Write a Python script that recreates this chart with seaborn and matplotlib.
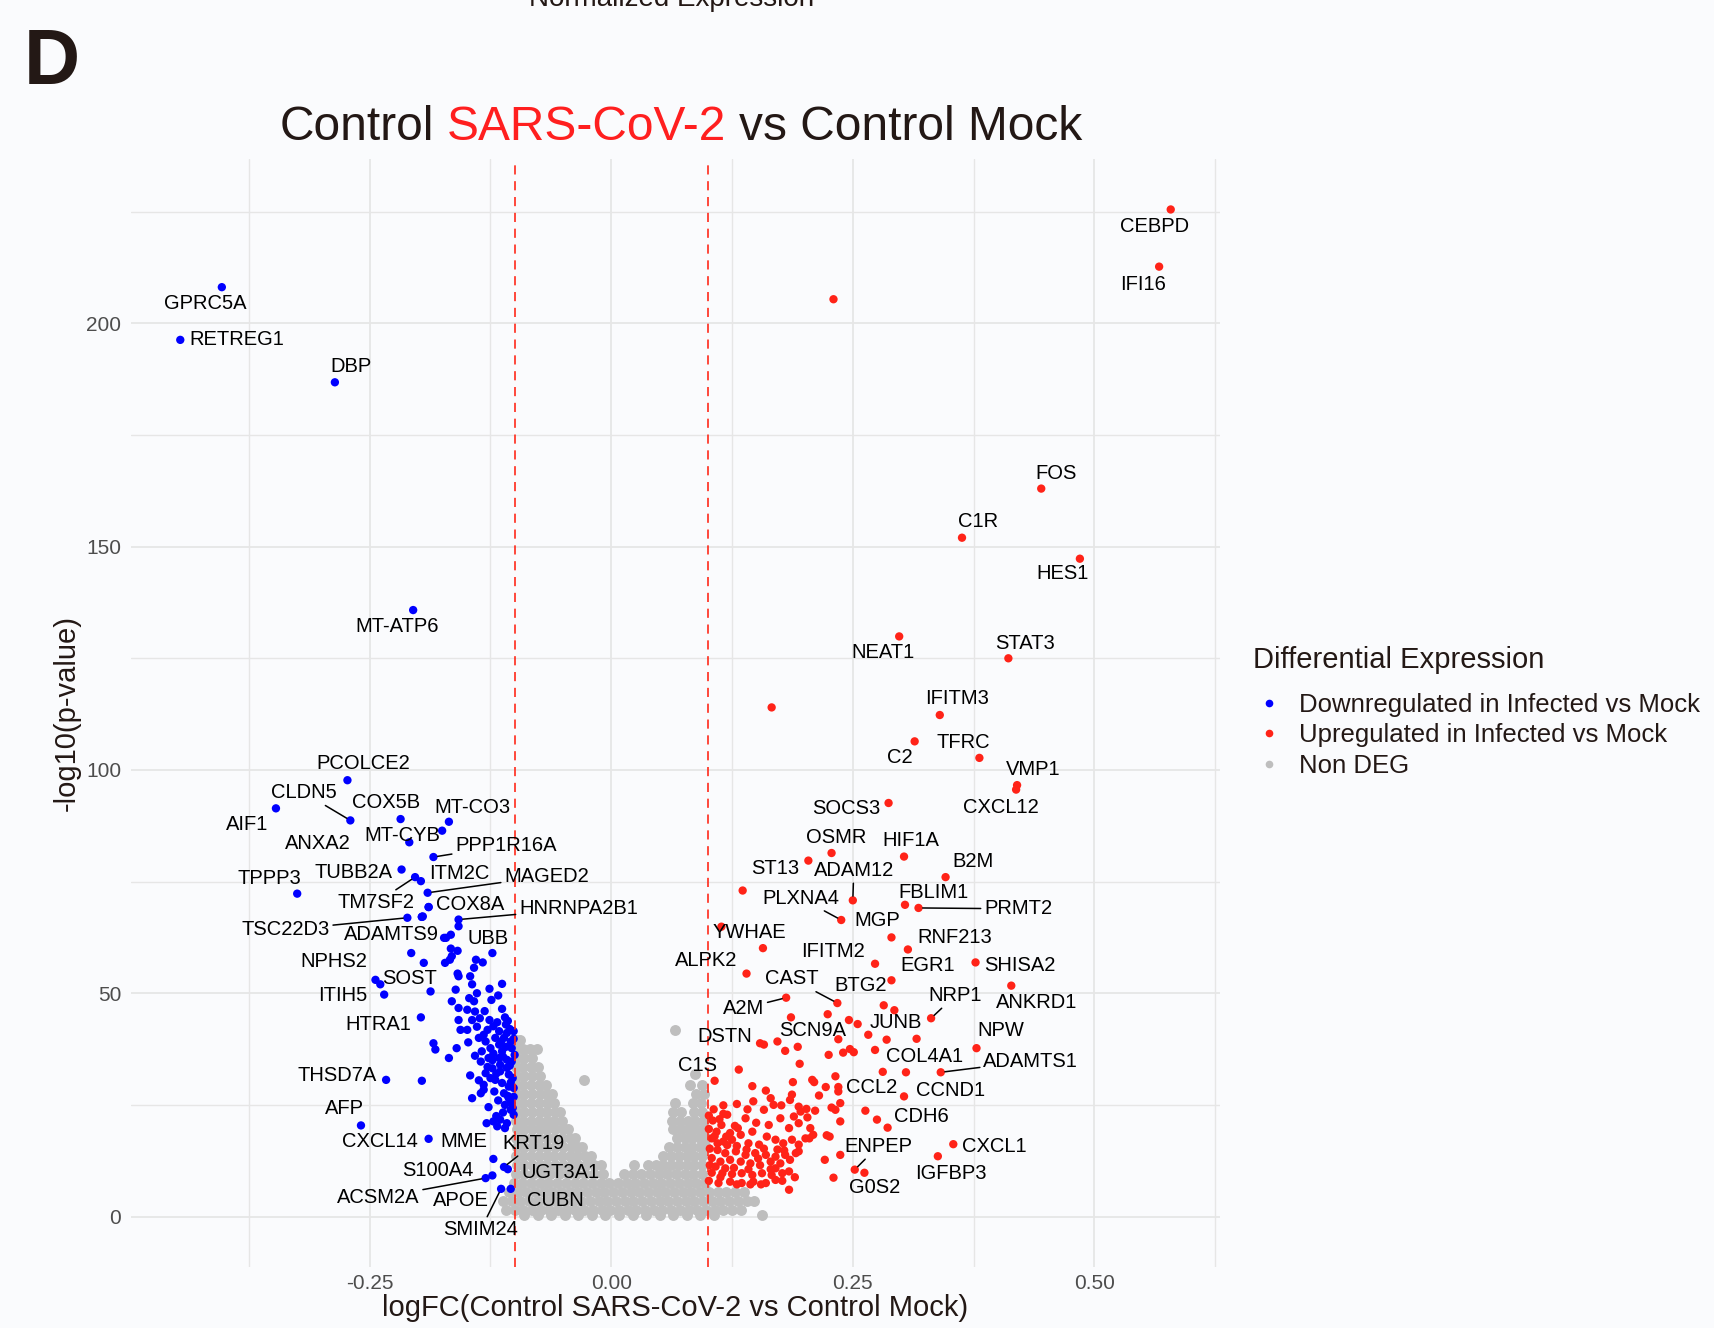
import numpy as np
import pandas as pd
import matplotlib
matplotlib.use("Agg")
import matplotlib.pyplot as plt
from matplotlib.lines import Line2D
import seaborn as sns

# ------------------------------------------------------------------ data
# labelled down-regulated genes (logFC, -log10 p)
down_genes = ["GPRC5A", "RETREG1", "DBP", "MT-ATP6", "PCOLCE2", "AIF1", "CLDN5", "COX5B",
              "MT-CO3", "MT-CYB", "ANXA2", "PPP1R16A", "TUBB2A", "TM7SF2", "ITM2C", "MAGED2",
              "TPPP3", "COX8A", "TSC22D3", "ADAMTS9", "HNRNPA2B1", "UBB", "NPHS2", "SOST",
              "ITIH5", "HTRA1", "THSD7A", "AFP", "CXCL14", "MME", "KRT19", "UGT3A1",
              "S100A4", "ACSM2A", "APOE", "SMIM24"]
down_logfc = [-0.403, -0.446, -0.286, -0.205, -0.273, -0.347, -0.270, -0.218,
              -0.168, -0.175, -0.209, -0.184, -0.217, -0.203, -0.197, -0.190,
              -0.325, -0.189, -0.211, -0.196, -0.158, -0.123, -0.244, -0.239,
              -0.235, -0.197, -0.233, -0.259, -0.189, -0.122, -0.111, -0.107,
              -0.123, -0.130, -0.104, -0.114]
down_logp = [208.1, 196.3, 186.8, 135.8, 97.7, 91.4, 88.7, 89.0,
             88.4, 86.4, 83.8, 80.5, 77.7, 76.0, 75.1, 72.5,
             72.3, 69.3, 66.9, 67.1, 66.5, 59.0, 53.0, 52.0,
             49.7, 44.6, 30.6, 20.4, 17.4, 12.9, 11.1, 10.6,
             9.2, 8.6, 6.2, 6.2]

# labelled up-regulated genes
up_genes = ["CEBPD", "IFI16", "FOS", "C1R", "HES1", "NEAT1", "STAT3", "IFITM3", "C2", "TFRC",
            "VMP1", "CXCL12", "SOCS3", "OSMR", "HIF1A", "ST13", "ADAM12", "B2M", "PLXNA4",
            "FBLIM1", "PRMT2", "MGP", "YWHAE", "RNF213", "ALPK2", "IFITM2", "SHISA2", "EGR1",
            "ANKRD1", "CAST", "BTG2", "A2M", "NRP1", "JUNB", "SCN9A", "DSTN", "NPW", "C1S",
            "COL4A1", "ADAMTS1", "CCL2", "CCND1", "CDH6", "CXCL1", "IGFBP3", "ENPEP", "G0S2"]
up_logfc = [0.579, 0.567, 0.445, 0.363, 0.485, 0.298, 0.411, 0.340, 0.314, 0.381,
            0.420, 0.419, 0.287, 0.228, 0.303, 0.204, 0.250, 0.346, 0.238,
            0.304, 0.318, 0.290, 0.114, 0.307, 0.140, 0.273, 0.377, 0.290,
            0.414, 0.234, 0.282, 0.181, 0.331, 0.316, 0.235, 0.154, 0.378, 0.107,
            0.305, 0.341, 0.303, 0.281, 0.286, 0.354, 0.338, 0.252, 0.262]
up_logp = [225.5, 212.7, 163.0, 152.0, 147.3, 129.9, 125.0, 112.3, 106.4, 102.7,
           96.6, 95.6, 92.6, 81.4, 80.6, 79.7, 70.8, 76.0, 66.4,
           69.8, 69.1, 62.5, 64.9, 59.8, 54.4, 56.6, 56.9, 52.9,
           51.7, 47.8, 47.3, 49.0, 44.4, 39.8, 39.7, 38.8, 37.7, 30.4,
           32.3, 32.3, 26.9, 32.4, 19.9, 16.2, 13.5, 10.5, 9.8]

# unlabelled down-regulated genes
down_x = [-0.189, -0.195, -0.158, -0.173, -0.166, -0.159, -0.165, -0.172, -0.167, -0.194,
          -0.140, -0.133, -0.142, -0.159, -0.158, -0.146, -0.113, -0.126, -0.161, -0.187,
          -0.144, -0.139, -0.147, -0.142, -0.165, -0.158, -0.149, -0.141, -0.144, -0.136,
          -0.158, -0.156, -0.149, -0.110, -0.109, -0.122, -0.116, -0.108, -0.111, -0.120,
          -0.132, -0.137, -0.130, -0.125, -0.116, -0.104, -0.103, -0.113, -0.134, -0.127,
          -0.135, -0.116, -0.108, -0.103, -0.123, -0.130, -0.115, -0.106, -0.120, -0.132,
          -0.113, -0.106, -0.101, -0.135, -0.144, -0.132, -0.111, -0.106, -0.110, -0.103,
          -0.104, -0.101, -0.184, -0.182, -0.160, -0.168, -0.146, -0.196, -0.129, -0.122,
          -0.115, -0.108, -0.110, -0.118, -0.118, -0.105, -0.122, -0.109, -0.101, -0.125,
          -0.102, -0.115, -0.128, -0.100, -0.108, -0.121, -0.101, -0.126, -0.113, -0.131,
          -0.124, -0.117, -0.148, -0.139, -0.141, -0.127, -0.137, -0.112, -0.196, -0.207,
          -0.171, -0.166, -0.104, -0.119, -0.107, -0.112, -0.119, -0.105, -0.128, -0.101,
          -0.114, -0.123, -0.107, -0.117, -0.102]
down_y = [69.3, 67.2, 65.0, 62.4, 63.1, 59.5, 58.3, 56.8, 57.5, 56.8,
          57.5, 56.9, 55.7, 54.4, 53.8, 53.8, 52.1, 51.0, 50.8, 50.4,
          52.0, 50.0, 48.9, 48.2, 48.2, 46.7, 46.3, 45.9, 44.0, 44.4,
          44.0, 41.8, 41.8, 44.6, 43.0, 42.6, 41.5, 41.1, 40.0, 40.0,
          40.7, 40.0, 39.2, 37.7, 38.5, 39.2, 37.7, 37.0, 37.0, 35.5,
          34.7, 35.5, 35.1, 34.7, 33.2, 32.1, 32.5, 31.8, 30.6, 29.5,
          29.9, 29.1, 28.8, 27.6, 26.5, 28.4, 27.6, 26.5, 25.0, 25.4,
          23.9, 22.8, 38.8, 37.4, 37.7, 35.5, 31.6, 30.4, 20.9, 21.3,
          21.7, 20.9, 19.8, 20.2, 43.5, 42.0, 36.5, 38.0, 41.5, 31.0,
          31.0, 34.0, 41.8, 36.2, 33.3, 28.0, 26.8, 44.0, 46.5, 46.0,
          48.5, 49.5, 39.0, 42.5, 36.0, 24.5, 30.5, 23.3, 67.1, 59.0,
          62.4, 60.0, 30.0, 22.5, 43.8, 35.8, 32.0, 33.8, 33.5, 39.8,
          39.2, 35.0, 27.0, 26.0, 24.3]

# unlabelled up-regulated genes
up_x = [0.230, 0.166, 0.136, 0.157, 0.293, 0.186, 0.224, 0.246, 0.255, 0.266,
        0.285, 0.158, 0.172, 0.180, 0.193, 0.225, 0.240, 0.247, 0.251, 0.273,
        0.195, 0.132, 0.232, 0.188, 0.208, 0.210, 0.222, 0.235, 0.235, 0.146,
        0.160, 0.187, 0.185, 0.215, 0.116, 0.130, 0.147, 0.165, 0.168, 0.176,
        0.158, 0.194, 0.202, 0.196, 0.211, 0.228, 0.232, 0.237, 0.263, 0.275,
        0.139, 0.123, 0.114, 0.163, 0.175, 0.189, 0.203, 0.194, 0.184, 0.206,
        0.223, 0.237, 0.104, 0.110, 0.116, 0.125, 0.134, 0.146, 0.161, 0.170,
        0.153, 0.142, 0.178, 0.187, 0.194, 0.201, 0.191, 0.180, 0.170, 0.160,
        0.149, 0.139, 0.129, 0.118, 0.110, 0.104, 0.113, 0.123, 0.134, 0.144,
        0.154, 0.165, 0.175, 0.185, 0.194, 0.104, 0.115, 0.125, 0.135, 0.146,
        0.156, 0.166, 0.177, 0.184, 0.111, 0.123, 0.135, 0.147, 0.160, 0.170,
        0.184, 0.237, 0.221, 0.230, 0.205, 0.209, 0.226, 0.102, 0.108, 0.118,
        0.102, 0.109, 0.120, 0.130, 0.127, 0.140, 0.113, 0.101, 0.142, 0.152,
        0.165, 0.158, 0.172, 0.179, 0.170, 0.128, 0.150, 0.141, 0.120, 0.105,
        0.190, 0.177, 0.155, 0.130, 0.144, 0.101, 0.106, 0.101, 0.112, 0.119,
        0.107, 0.131, 0.116]
up_y = [205.4, 114.0, 73.0, 60.1, 46.2, 44.6, 45.3, 44.0, 43.1, 40.7,
        39.6, 38.5, 39.2, 37.1, 38.0, 36.2, 36.7, 37.5, 36.8, 37.3,
        34.2, 32.9, 31.4, 30.1, 30.6, 30.1, 29.0, 29.0, 28.0, 29.2,
        28.2, 27.3, 26.1, 27.1, 24.9, 25.2, 25.8, 26.5, 25.0, 24.9,
        23.9, 24.6, 24.1, 23.5, 23.7, 24.4, 23.9, 25.4, 23.7, 21.7,
        22.0, 18.7, 20.5, 20.5, 22.0, 22.4, 22.2, 20.9, 19.8, 19.8,
        18.2, 21.3, 17.5, 16.4, 16.8, 17.2, 18.3, 19.0, 17.9, 17.2,
        16.1, 16.4, 16.4, 17.2, 16.1, 17.5, 14.2, 13.8, 13.4, 13.8,
        14.2, 13.8, 14.6, 14.2, 14.9, 13.1, 12.3, 12.7, 12.3, 11.9,
        11.5, 12.3, 11.9, 12.7, 14.6, 9.8, 9.7, 9.5, 9.7, 9.3,
        9.7, 9.3, 9.7, 10.1, 7.5, 7.8, 7.5, 7.8, 7.5, 8.2,
        6.0, 13.8, 12.7, 8.7, 17.5, 18.3, 17.9, 15.2, 11.2, 10.8,
        11.5, 19.0, 16.0, 15.8, 10.9, 15.0, 8.8, 8.0, 10.6, 13.0,
        10.6, 15.2, 15.0, 14.8, 10.8, 20.3, 21.0, 24.0, 22.8, 21.5,
        8.8, 8.0, 7.2, 7.2, 7.2, 22.6, 24.0, 19.6, 21.8, 17.9,
        18.0, 19.8, 23.0]

# non-DEG genes, read row by row: -log10 p -> logFC values
nondeg_rows = {
    41.7: [0.066],
    39.5: [-0.099, -0.094],
    37.5: [-0.099, -0.091, -0.084, -0.077],
    35.5: [-0.098, -0.090, -0.082],
    33.5: [-0.099, -0.091, -0.083, -0.076],
    32.0: [0.087],
    31.5: [-0.098, -0.090, -0.082, -0.074],
    30.6: [-0.028],
    29.5: [-0.099, -0.091, -0.083, -0.075, -0.068, 0.081, 0.094],
    27.5: [-0.098, -0.090, -0.082, -0.074, -0.066, -0.061, 0.088, 0.096],
    25.5: [-0.099, -0.091, -0.083, -0.075, -0.067, -0.059, 0.066, 0.085, 0.093],
    23.5: [-0.098, -0.090, -0.082, -0.074, -0.066, -0.058, -0.053, 0.064, 0.072, 0.086, 0.094],
    21.5: [-0.099, -0.091, -0.083, -0.075, -0.067, -0.059, -0.051, 0.063, 0.071, 0.079, 0.087, 0.095],
    19.5: [-0.098, -0.090, -0.082, -0.074, -0.066, -0.058, -0.050, -0.045,
           0.064, 0.072, 0.080, 0.088, 0.096],
    17.5: [-0.099, -0.091, -0.083, -0.075, -0.067, -0.059, -0.051, -0.043, -0.038,
           0.068, 0.076, 0.084, 0.092, 0.098],
    15.5: [-0.098, -0.090, -0.082, -0.074, -0.066, -0.058, -0.050, -0.042, -0.034, -0.030,
           0.060, 0.068, 0.076, 0.084, 0.092, 0.098],
    13.5: [-0.099, -0.091, -0.083, -0.075, -0.067, -0.059, -0.051, -0.043, -0.035, -0.027, -0.021,
           0.054, 0.062, 0.070, 0.078, 0.086, 0.094],
    11.5: [-0.098, -0.090, -0.082, -0.074, -0.066, -0.058, -0.050, -0.042, -0.034, -0.026, -0.018,
           -0.011, 0.024, 0.038, 0.046, 0.054, 0.062, 0.070, 0.078, 0.086, 0.094],
    9.6: [-0.099, -0.090, -0.081, -0.072, -0.063, -0.054, -0.045, -0.036, -0.027, -0.018, -0.009,
          0.013, 0.022, 0.031, 0.040, 0.049, 0.058, 0.067, 0.076, 0.085, 0.094],
    7.6: [-0.101, -0.092, -0.083, -0.074, -0.065, -0.056, -0.047, -0.038, -0.029, -0.020, -0.011,
          -0.002, 0.007, 0.016, 0.025, 0.034, 0.043, 0.052, 0.061, 0.070, 0.079, 0.088, 0.097],
    5.6: [-0.106, -0.097, -0.088, -0.079, -0.070, -0.061, -0.052, -0.043, -0.034, -0.025, -0.016,
          -0.007, 0.002, 0.011, 0.020, 0.029, 0.038, 0.047, 0.056, 0.065, 0.074, 0.083, 0.092,
          0.101, 0.110, 0.119, 0.128, 0.137],
    3.4: [-0.112, -0.103, -0.094, -0.085, -0.076, -0.067, -0.058, -0.049, -0.040, -0.031, -0.022,
          -0.013, -0.004, 0.005, 0.014, 0.023, 0.032, 0.041, 0.050, 0.059, 0.068, 0.077, 0.086,
          0.095, 0.104, 0.113, 0.122, 0.131, 0.140, 0.148],
    1.4: [-0.109, -0.100, -0.091, -0.082, -0.073, -0.064, -0.055, -0.046, -0.037, -0.028, -0.019,
          -0.010, -0.001, 0.008, 0.017, 0.026, 0.035, 0.044, 0.053, 0.062, 0.071, 0.080, 0.089,
          0.098, 0.107, 0.116, 0.125, 0.134],
    0.4: [-0.090, -0.076, -0.062, -0.048, -0.034, -0.020, -0.006, 0.008, 0.022, 0.036, 0.050,
          0.064, 0.078, 0.092, 0.106, 0.156],
}

# label positions (data coordinates) and whether a leader segment is drawn
down_lab_x = [-0.420, -0.388, -0.269, -0.222, -0.257, -0.377, -0.318, -0.233,
              -0.144, -0.216, -0.304, -0.109, -0.267, -0.243, -0.157, -0.067,
              -0.354, -0.146, -0.337, -0.227, -0.034, -0.127, -0.287, -0.209,
              -0.278, -0.241, -0.284, -0.276, -0.239, -0.153, -0.080, -0.052,
              -0.179, -0.241, -0.156, -0.135]
down_lab_y = [204.4, 196.3, 190.4, 132.1, 101.5, 87.7, 94.9, 92.6,
              91.7, 85.3, 83.6, 83.1, 77.0, 70.3, 76.7, 76.2,
              75.7, 69.9, 64.2, 63.2, 68.9, 62.3, 57.1, 53.4,
              49.5, 43.1, 31.6, 24.3, 16.7, 16.7, 16.4, 9.8,
              10.3, 4.2, 3.7, -2.9]
down_lab_seg = ["CLDN5", "PPP1R16A", "TM7SF2", "MAGED2", "HNRNPA2B1", "TSC22D3",
                "KRT19", "ACSM2A", "SMIM24"]
up_lab_x = [0.562, 0.550, 0.460, 0.380, 0.467, 0.281, 0.428, 0.358, 0.299, 0.364,
            0.437, 0.403, 0.243, 0.233, 0.310, 0.170, 0.251, 0.374, 0.196,
            0.334, 0.421, 0.275, 0.143, 0.356, 0.098, 0.230, 0.423, 0.327,
            0.440, 0.187, 0.258, 0.137, 0.356, 0.295, 0.208, 0.117, 0.403, 0.089,
            0.324, 0.434, 0.269, 0.351, 0.321, 0.396, 0.352, 0.276, 0.273]
up_lab_y = [221.6, 208.8, 166.4, 155.6, 143.9, 126.2, 128.4, 115.9, 102.7, 106.1,
            100.2, 91.7, 91.4, 84.8, 84.3, 77.9, 77.5, 79.4, 71.3,
            72.5, 68.9, 66.2, 63.7, 62.5, 57.4, 59.3, 56.1, 56.1,
            48.0, 53.2, 51.7, 46.6, 49.5, 43.4, 41.7, 40.4, 41.7, 33.8,
            35.8, 34.8, 28.9, 28.2, 22.3, 15.7, 9.6, 15.7, 6.4]
up_lab_seg = ["ADAM12", "PLXNA4", "PRMT2", "CAST", "A2M", "NRP1", "ADAMTS1", "ENPEP"]

# labelled gene hidden in the non-DEG cloud
extra_label = ("CUBN", -0.058, 3.7)

# axis ticks / text
x_major = [-0.25, 0.0, 0.25, 0.50]
x_major_labels = ["-0.25", "0.00", "0.25", "0.50"]
x_minor = [-0.375, -0.125, 0.125, 0.375, 0.625]
y_major = [0, 50, 100, 150, 200]
y_minor = [25, 75, 125, 175, 225]
groups = ["Downregulated in Infected vs Mock", "Upregulated in Infected vs Mock", "Non DEG"]
fc_threshold = 0.1

# ------------------------------------------------------------------ style
BG = "#fafbfd"
DARK = "#231815"
BLUE = "#0000ff"
RED = "#ff2318"
GREY = "#bebebe"
GRID = "#e6e6e6"
palette = {groups[0]: BLUE, groups[1]: RED, groups[2]: GREY}

sns.set_theme(style="whitegrid")
plt.rcParams["font.family"] = ["Liberation Sans", "DejaVu Sans"]

# ------------------------------------------------------------------ frames
nd_x, nd_y = [], []
for yv, xs in nondeg_rows.items():
    for xv in xs:
        nd_x.append(xv)
        nd_y.append(yv)
df_nd = pd.DataFrame({"logFC": nd_x, "nlp": nd_y, "group": groups[2]})

df_deg = pd.concat([
    pd.DataFrame({"logFC": down_x, "nlp": down_y, "group": groups[0]}),
    pd.DataFrame({"logFC": up_x, "nlp": up_y, "group": groups[1]}),
    pd.DataFrame({"logFC": down_logfc, "nlp": down_logp, "group": groups[0]}),
    pd.DataFrame({"logFC": up_logfc, "nlp": up_logp, "group": groups[1]}),
], ignore_index=True)

# ------------------------------------------------------------------ figure
W, H = 1715, 1328
fig = plt.figure(figsize=(W / 100, H / 100), dpi=100, facecolor=BG)
ax = fig.add_axes([131 / W, 1 - 1267 / H, (1220 - 131) / W, (1267 - 159) / H])
ax.set_facecolor(BG)

sns.scatterplot(data=df_nd, x="logFC", y="nlp", color=GREY, s=62, linewidth=0,
                legend=False, ax=ax, zorder=2)
sns.scatterplot(data=df_deg, x="logFC", y="nlp", hue="group", palette=palette, s=36,
                linewidth=0, legend=False, ax=ax, zorder=3)

for xv in (-fc_threshold, fc_threshold):
    ax.axvline(xv, color="#ff2a1a", lw=1.2, ls=(0, (5.5, 4)), zorder=4)

ax.set_xlim(-0.497, 0.630)
ax.set_ylim(-11.3, 236.8)
ax.set_xticks(x_major)
ax.set_xticklabels(x_major_labels)
ax.set_xticks(x_minor, minor=True)
ax.set_yticks(y_major)
ax.set_yticks(y_minor, minor=True)
ax.set_axisbelow(True)
ax.grid(which="major", color=GRID, lw=1.3)
ax.grid(which="minor", color=GRID, lw=1.0)
ax.tick_params(which="both", length=0, labelsize=15, labelcolor="#4d4d4d")
ax.tick_params(axis="x", pad=5)
ax.tick_params(axis="y", pad=7)
for sp in ax.spines.values():
    sp.set_visible(False)
ax.set_xlabel("logFC(Control SARS-CoV-2 vs Control Mock)", fontsize=21, color=DARK, labelpad=1)
ax.set_ylabel("-log10(p-value)", fontsize=21, color=DARK, labelpad=4)

# gene labels
def put_labels(names, px, py, lx, ly, seg):
    for n, x0, y0, tx, ty in zip(names, px, py, lx, ly):
        if n in seg:
            ax.annotate(n, xy=(x0, y0), xytext=(tx, ty), fontsize=14.5, color="black",
                        ha="center", va="center", zorder=6,
                        arrowprops=dict(arrowstyle="-", color="black", lw=1.1,
                                        shrinkA=0, shrinkB=3))
        else:
            ax.text(tx, ty, n, fontsize=14.5, color="black", ha="center", va="center", zorder=6)

put_labels(down_genes, down_logfc, down_logp, down_lab_x, down_lab_y, down_lab_seg)
put_labels(up_genes, up_logfc, up_logp, up_lab_x, up_lab_y, up_lab_seg)
ax.text(extra_label[1], extra_label[2], extra_label[0], fontsize=14.5, color="black",
        ha="center", va="center", zorder=6)

# legend
handles = [Line2D([0], [0], marker="o", linestyle="", markersize=5.5,
                  markerfacecolor=palette[g], markeredgewidth=0) for g in groups]
leg = fig.legend(handles, groups, title="Differential Expression", loc="upper left",
                 bbox_to_anchor=(1253 / W, 1 - 646 / H), frameon=False, fontsize=18.5,
                 title_fontsize=21, handlelength=1.25, handletextpad=0.55,
                 labelspacing=0.25, borderpad=0, borderaxespad=0)
leg._legend_box.align = "left"
leg._legend_box.sep = 0.25 * 18.5 + 9
for t in leg.get_texts():
    t.set_color(DARK)
leg.get_title().set_color(DARK)

# title with coloured part
fig.canvas.draw()
r = fig.canvas.get_renderer()
def text_w(s, size):
    t = fig.text(0, 0, s, fontsize=size)
    w = t.get_window_extent(r).width
    t.remove()
    return w

TS = 34.5
full = "Control SARS-CoV-2 vs Control Mock"
w_all = text_w(full, TS)
w_a = text_w("Control SARS-CoV-2", TS)
w_b = text_w("SARS-CoV-2", TS)
w_c = text_w("vs Control Mock", TS)
x0 = 681 - w_all / 2
yb = 1 - 140 / H
fig.text(x0 / W, yb, "Control", fontsize=TS, color=DARK, va="baseline", ha="left")
fig.text((x0 + w_a - w_b) / W, yb, "SARS-CoV-2", fontsize=TS, color="#ff1f1f", va="baseline", ha="left")
fig.text((x0 + w_all - w_c) / W, yb, "vs Control Mock", fontsize=TS, color=DARK, va="baseline", ha="left")

# panel letter and the heading of the panel above, cut by the top edge as in the source
fig.text(24 / W, 1 - 84 / H, "D", fontsize=56, fontweight="bold", color=DARK, va="baseline", ha="left")
fig.text(672 / W, 1 - 6 / H, "Normalized Expression", fontsize=20, color=DARK, va="baseline", ha="center")

fig.savefig("out.png", dpi=100, facecolor=BG)
